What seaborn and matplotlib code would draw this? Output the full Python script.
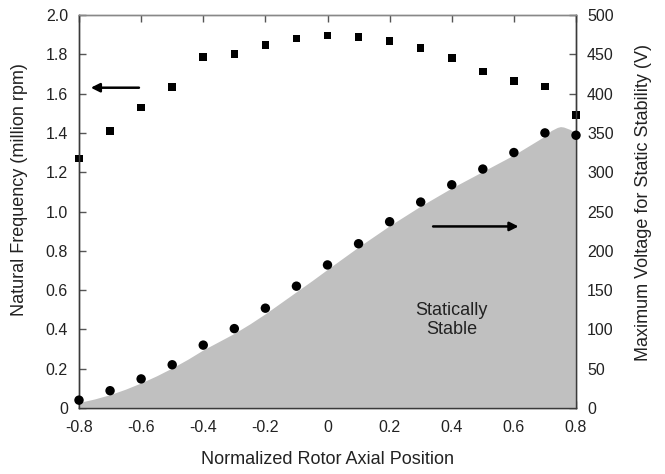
import numpy as np
import pandas as pd
import seaborn as sns
import matplotlib
matplotlib.use("Agg")
import matplotlib.pyplot as plt

# ---- data ----
positions = [-0.8, -0.7, -0.6, -0.5, -0.4, -0.3, -0.2, -0.1, 0.0,
             0.1, 0.2, 0.3, 0.4, 0.5, 0.6, 0.7, 0.8]
nat_freq = [1.27, 1.41, 1.53, 1.635, 1.785, 1.80, 1.847, 1.881, 1.895,
            1.888, 1.868, 1.831, 1.780, 1.713, 1.664, 1.637, 1.491]
max_voltage = [10, 22, 37, 55, 80, 101, 127, 155, 182,
               209, 237, 262, 284, 304, 325, 350, 347]

# boundary of the statically stable region (V)
stable_x = [-0.8, -0.75, -0.7, -0.65, -0.6, -0.55, -0.5, -0.45, -0.4, -0.35,
            -0.3, -0.25, -0.2, -0.15, -0.1, -0.05, 0.0, 0.1, 0.2, 0.3,
            0.4, 0.5, 0.6, 0.65, 0.7, 0.72, 0.74, 0.75, 0.76, 0.77,
            0.78, 0.79, 0.8]
stable_v = [7, 11.5, 17, 24, 32, 41, 51, 62, 74, 84.5,
            95, 107, 120, 134, 148, 162, 176.5, 205, 232, 257,
            280, 301, 322, 334, 346, 353, 357, 358, 357.5, 356,
            354.5, 352, 349]

x_ticks = [-0.8, -0.6, -0.4, -0.2, 0.0, 0.2, 0.4, 0.6, 0.8]
x_tick_labels = ["-0.8", "-0.6", "-0.4", "-0.2", "0", "0.2", "0.4", "0.6", "0.8"]
left_ticks = [0, 0.2, 0.4, 0.6, 0.8, 1.0, 1.2, 1.4, 1.6, 1.8, 2.0]
left_tick_labels = ["0", "0.2", "0.4", "0.6", "0.8", "1.0", "1.2", "1.4", "1.6", "1.8", "2.0"]
right_ticks = [0, 50, 100, 150, 200, 250, 300, 350, 400, 450, 500]
right_tick_labels = [str(t) for t in right_ticks]

df = pd.DataFrame({"pos": positions, "freq": nat_freq, "volt": max_voltage})

sns.set_theme(style="white")
plt.rcParams["font.family"] = ["Liberation Sans", "DejaVu Sans"]

spine_c = "#3a3a3a"
tick_c = "#555555"
text_c = "#222222"

fig = plt.figure(figsize=(6.65, 4.74), dpi=100)
ax1 = fig.add_axes([79 / 665, 66 / 474, (576 - 79) / 665, (408 - 15) / 474])
ax2 = ax1.twinx()

# frequency squares
sns.scatterplot(data=df, x="pos", y="freq", ax=ax1, marker="s", s=30,
                color="black", edgecolor="none", clip_on=False, legend=False, zorder=5)

# stable region + voltage circles
ax2.fill_between(stable_x, 0, stable_v, color="#c0c0c0", linewidth=0, zorder=1)
sns.scatterplot(data=df, x="pos", y="volt", ax=ax2, marker="o", s=46,
                color="black", edgecolor="none", clip_on=False, legend=False, zorder=5)

ax1.set_xlim(-0.8, 0.8)
ax1.set_ylim(0, 2.0)
ax2.set_ylim(0, 500)

ax1.set_xticks(x_ticks)
ax1.set_xticklabels(x_tick_labels)
ax1.set_yticks(left_ticks)
ax1.set_yticklabels(left_tick_labels)
ax2.set_yticks(right_ticks)
ax2.set_yticklabels(right_tick_labels)

ax1.tick_params(axis="x", which="both", direction="in", length=5, width=1,
                color=tick_c, top=True, bottom=True, labelsize=11.5, pad=9,
                labelcolor=text_c)
ax1.tick_params(axis="y", direction="in", length=5, width=1, color=tick_c,
                labelsize=11.5, pad=8, labelcolor=text_c)
ax2.tick_params(axis="y", direction="in", length=5, width=1, color=tick_c,
                labelsize=11.5, pad=8, labelcolor=text_c)

for ax in (ax1, ax2):
    for sp in ax.spines.values():
        sp.set_color(spine_c)
        sp.set_linewidth(1.0)
    ax.spines["top"].set_color("#888888")

ax1.set_xlabel("Normalized Rotor Axial Position", fontsize=13, color=text_c, labelpad=11)
ax1.set_ylabel("Natural Frequency (million rpm)", fontsize=13, color=text_c)
ax2.set_ylabel("Maximum Voltage for Static Stability (V)", fontsize=13, color=text_c,
               rotation=90)
ax1.yaxis.set_label_coords(-0.103, 0.555)
ax2.yaxis.set_label_coords(1.119, 0.523)

# arrows
ax1.annotate("", xy=(-0.762, 1.63), xytext=(-0.607, 1.63),
             arrowprops=dict(arrowstyle="-|>", color="black", lw=1.8, mutation_scale=13,
                             shrinkA=0, shrinkB=0), zorder=6)
ax2.annotate("", xy=(0.615, 231), xytext=(0.34, 231),
             arrowprops=dict(arrowstyle="-|>", color="black", lw=1.8, mutation_scale=13,
                             shrinkA=0, shrinkB=0), zorder=6)

ax2.text(0.40, 112, "Statically\nStable", ha="center", va="center", fontsize=13,
         color=text_c, linespacing=1.15, zorder=6)

fig.savefig("out.png", dpi=100)
